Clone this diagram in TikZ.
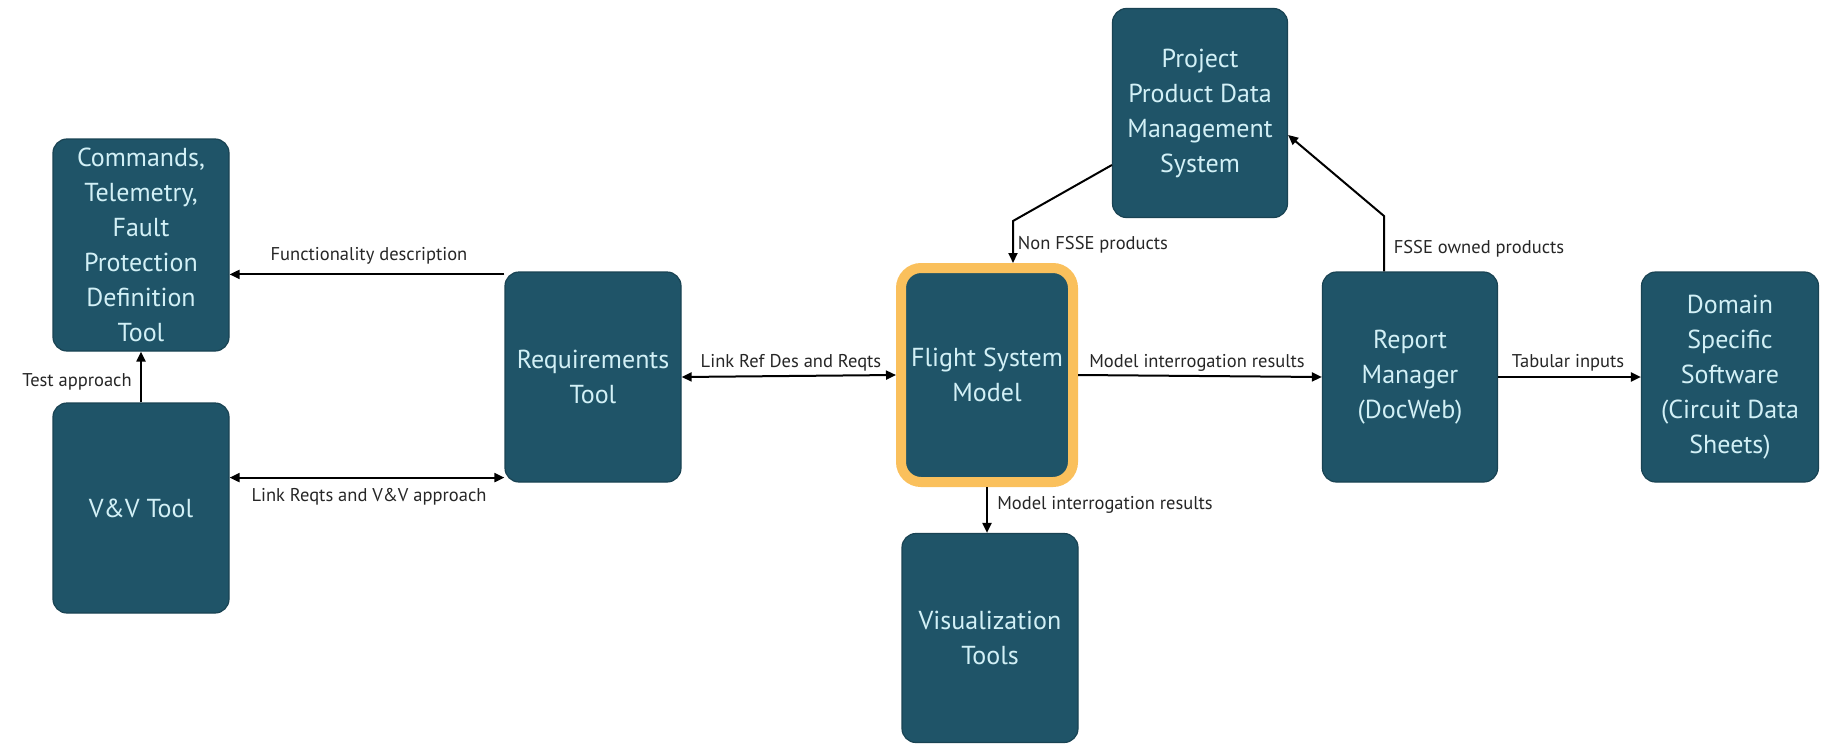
\documentclass[tikz,border=0pt]{standalone}
\usepackage{fontspec}
\setmainfont{PT Sans}
\usetikzlibrary{arrows.meta}
\definecolor{boxteal}{RGB}{31,84,104}
\definecolor{boxtext}{RGB}{210,240,246}
\definecolor{hilite}{RGB}{250,192,92}
\tikzset{
  tbox/.style={rectangle, rounded corners=14pt, fill=boxteal, draw=boxteal!80!black, line width=1.2pt,
    text=boxtext, align=center, inner sep=4pt,
    font=\fontsize{26}{35}\selectfont},
  hibox/.style={tbox, draw=hilite, line width=10pt, rounded corners=20pt},
  arr/.style={line width=2pt, -{Triangle[length=10pt,width=9pt]}},
  darr/.style={line width=2pt, {Triangle[length=10pt,width=9pt]}-{Triangle[length=10pt,width=9pt]}},
  lbl/.style={font=\fontsize{18.5}{21}\selectfont, text=black!85, inner sep=1pt},
}
\begin{document}
\begin{tikzpicture}[x=1pt,y=-1pt]
\useasboundingbox (0,0) rectangle (1821,744);
% boxes
\node[tbox, minimum width=176pt, minimum height=212pt] (cmd) at (141,245) {Commands,\\Telemetry,\\Fault\\Protection\\Definition\\Tool};
\node[tbox, minimum width=176pt, minimum height=210pt] (vv) at (141,508) {V\&V Tool};
\node[tbox, minimum width=176pt, minimum height=210pt] (req) at (593,377) {Requirements\\Tool};
\node[hibox, minimum width=172pt, minimum height=214pt] (fsm) at (987,375) {Flight System\\Model};
\node[tbox, minimum width=176pt, minimum height=209pt] (vis) at (990,638) {Visualization\\Tools};
\node[tbox, minimum width=175pt, minimum height=209pt] (ppd) at (1200,113) {Project\\Product Data\\Management\\System};
\node[tbox, minimum width=175pt, minimum height=210pt] (rep) at (1410,377) {Report\\Manager\\(DocWeb)};
\node[tbox, minimum width=177pt, minimum height=210pt] (dom) at (1730,377) {Domain\\Specific\\Software\\(Circuit Data\\Sheets)};
% connectors
\draw[arr] (req.north west) ++(0,-3pt) coordinate (f1) -- (f1 -| cmd.east);
\draw[darr] (req.south west) ++(0,5pt) coordinate (f2) -- (f2 -| vv.east);
\draw[arr] (vv.north) -- (cmd.south);
\draw[darr] (req.east) -- (fsm.west);
\draw[arr] (fsm.east) -- (rep.west);
\draw[arr] (rep.east) -- (dom.west);
\draw[arr] (fsm.south) -- (fsm.south |- vis.north);
\coordinate (n1) at (1013,221);
\draw[arr] ([yshift=-52pt]ppd.west) -- (n1) -- (n1 |- fsm.north);
\coordinate (n2) at (1384,216);
\draw[arr] (n2 |- rep.north) -- (n2) -- ([yshift=-22pt]ppd.east);
% labels
\node[lbl] (l1) at (369,256) {Functionality description};
\node[lbl] (l2) at (369,497) {Link Reqts and V\&V approach};
\node[lbl] (l3) at (77,382) {Test approach};
\node[lbl] (l4) at (791,363) {Link Ref Des and Reqts};
\node[lbl] (l5) at (1197,363) {Model interrogation results};
\node[lbl] (l6) at (1568,363) {Tabular inputs};
\node[lbl] (l7) at (1105,505) {Model interrogation results};
\node[lbl] (l8) at (1093,245) {Non FSSE products};
\node[lbl] (l9) at (1479,249) {FSSE owned products};
\end{tikzpicture}
\end{document}
